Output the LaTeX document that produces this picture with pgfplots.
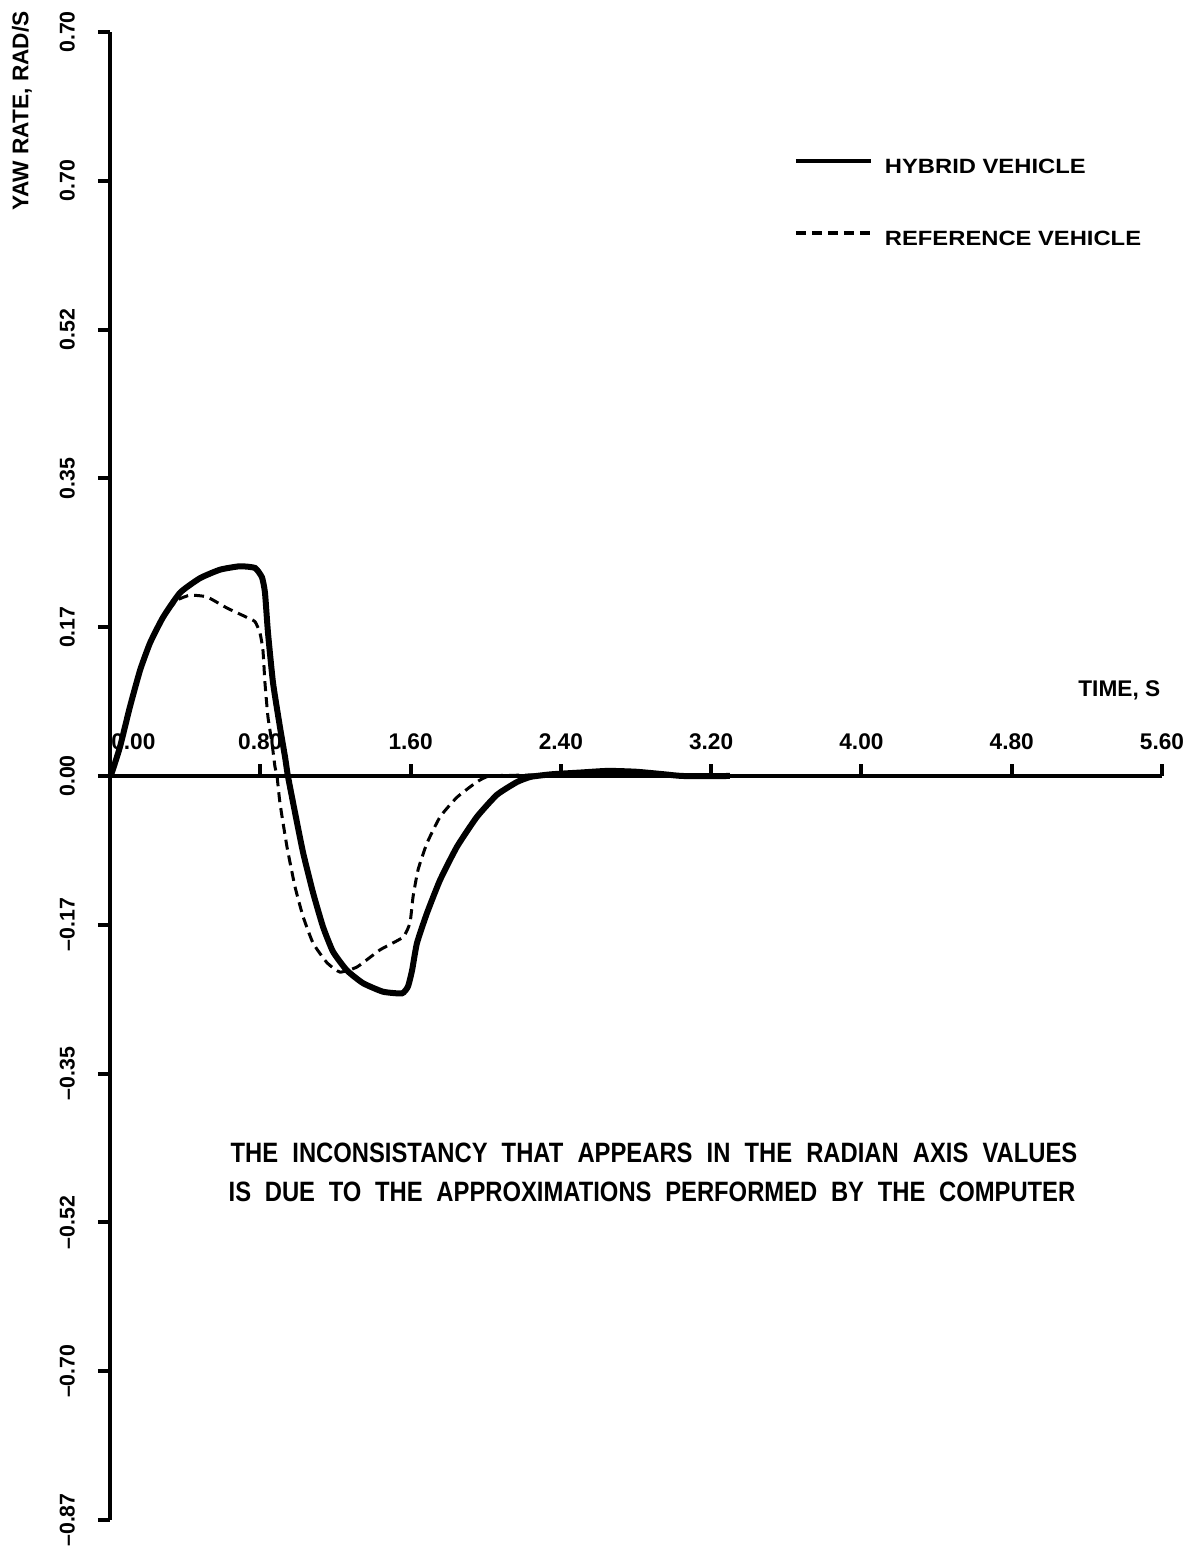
\documentclass[border=0pt]{standalone}
\usepackage{fontspec}
\setmainfont{Liberation Sans}
\newfontfamily\legfont[FakeStretch=1.15]{Liberation Sans}
\newfontfamily\notefont[FakeStretch=0.85]{Liberation Sans}
\usepackage{pgfplots}
\pgfplotsset{compat=1.18}

% yaw rate step response, hybrid vs reference vehicle
\pgfplotstableread{
t y
0.00 0.000
0.01 0.004
0.053 0.034
0.106 0.081
0.16 0.124
0.213 0.156
0.282 0.186
0.373 0.215
0.479 0.232
0.586 0.242
0.692 0.246
0.772 0.244
0.809 0.233
0.825 0.215
0.841 0.168
0.868 0.109
0.905 0.057
0.932 0.022
0.947 0.000
0.985 -0.043
1.028 -0.090
1.081 -0.137
1.134 -0.177
1.187 -0.206
1.261 -0.228
1.347 -0.243
1.453 -0.253
1.554 -0.255
1.586 -0.247
1.608 -0.228
1.634 -0.196
1.687 -0.161
1.757 -0.122
1.847 -0.083
1.953 -0.048
2.06 -0.022
2.167 -0.007
2.24 -0.001
2.35 0.002
2.50 0.004
2.65 0.006
2.80 0.005
2.95 0.002
3.05 0.000
3.30 0.000
}\hybrid

\pgfplotstableread{
t y
0.00 0.000
0.01 0.004
0.053 0.034
0.106 0.081
0.16 0.124
0.213 0.156
0.282 0.186
0.357 0.206
0.426 0.212
0.516 0.210
0.623 0.197
0.729 0.186
0.772 0.181
0.798 0.168
0.814 0.148
0.825 0.109
0.841 0.069
0.862 0.039
0.878 0.011
0.889 0.000
0.905 -0.032
0.942 -0.083
0.985 -0.130
1.028 -0.165
1.081 -0.196
1.155 -0.219
1.224 -0.230
1.315 -0.224
1.437 -0.204
1.56 -0.189
1.597 -0.172
1.613 -0.142
1.64 -0.110
1.687 -0.079
1.757 -0.048
1.847 -0.025
1.953 -0.007
2.02 0.000
2.20 0.001
2.35 0.002
}\reference

\begin{document}
\begin{tikzpicture}
\begin{axis}[
    at={(0pt,0pt)}, anchor=south west,
    scale only axis,
    width=315.6pt, height=446.4pt,
    xmin=0, xmax=5.6,
    ymin=-0.872665, ymax=0.872665,
    axis x line=middle, axis y line=left,
    axis line style={-, line width=1.2pt},
    hide obscured x ticks=false, hide obscured y ticks=false,
    clip mode=individual,
    xtick={0,0.8,1.6,2.4,3.2,4.0,4.8,5.6},
    xticklabels={\hspace*{14pt}0.00,0.80,1.60,2.40,3.20,4.00,4.80,5.60},
    ytick={-0.872665,-0.698132,-0.523599,-0.349066,-0.174533,0,0.174533,0.349066,0.523599,0.698132,0.872665},
    yticklabels={--0.87,--0.70,--0.52,--0.35,--0.17,0.00,0.17,0.35,0.52,0.70,0.70},
    xtick align=inside, ytick align=outside,
    major tick length=3.6pt,
    every tick/.style={black, line width=1.2pt},
    /pgf/number format/assume math mode=true,
    xticklabel style={anchor=base, yshift=8pt, font=\fontsize{6.8}{8}\selectfont\bfseries},
    yticklabel style={xshift=-7pt, rotate=90, anchor=base, font=\fontsize{6.4}{8}\selectfont\bfseries},
    xlabel={TIME, S},
    xlabel style={at={(axis description cs:1,0.5531)}, anchor=base east, xshift=3pt, font=\fontsize{6.8}{8}\selectfont\bfseries},
    ylabel={YAW RATE, RAD/S},
    ylabel style={at={(axis description cs:-0.0837,0.947)}, anchor=center, font=\fontsize{6.8}{8}\selectfont\bfseries},
    legend style={draw=none, fill=none, at={(axis description cs:0.6492,0.9153)}, anchor=north west,
        inner sep=0pt, row sep=15.8pt, column sep=3.6pt, nodes={inner sep=0pt},
        font=\legfont\bfseries\fontsize{6.2}{7}\selectfont},
    legend cell align=left,
    legend image code/.code={\draw[#1, line width=1.3pt] (0pt,2.2pt) -- (22.5pt,2.2pt);},
]
\addplot[black, line width=1.8pt, smooth, tension=0.3] table[x=t, y=y] {\hybrid};
\addplot[black, line width=0.9pt, dash pattern=on 3pt off 1.8pt, smooth, tension=0.3] table[x=t, y=y] {\reference};
\legend{HYBRID VEHICLE, REFERENCE VEHICLE}

\node[anchor=base west, inner sep=0pt, font=\notefont\bfseries\fontsize{8.4}{10}\selectfont]
    at (axis cs:0.639,-0.4539) {\makebox[254pt][s]{THE INCONSISTANCY THAT APPEARS IN THE RADIAN AXIS VALUES}};
\node[anchor=base west, inner sep=0pt, font=\notefont\bfseries\fontsize{8.4}{10}\selectfont]
    at (axis cs:0.628,-0.4996) {\makebox[254pt][s]{IS DUE TO THE APPROXIMATIONS PERFORMED BY THE COMPUTER}};
\end{axis}
\pgfresetboundingbox
\path (-33pt,-9pt) rectangle (322.2pt,456pt);
\end{tikzpicture}
\end{document}
